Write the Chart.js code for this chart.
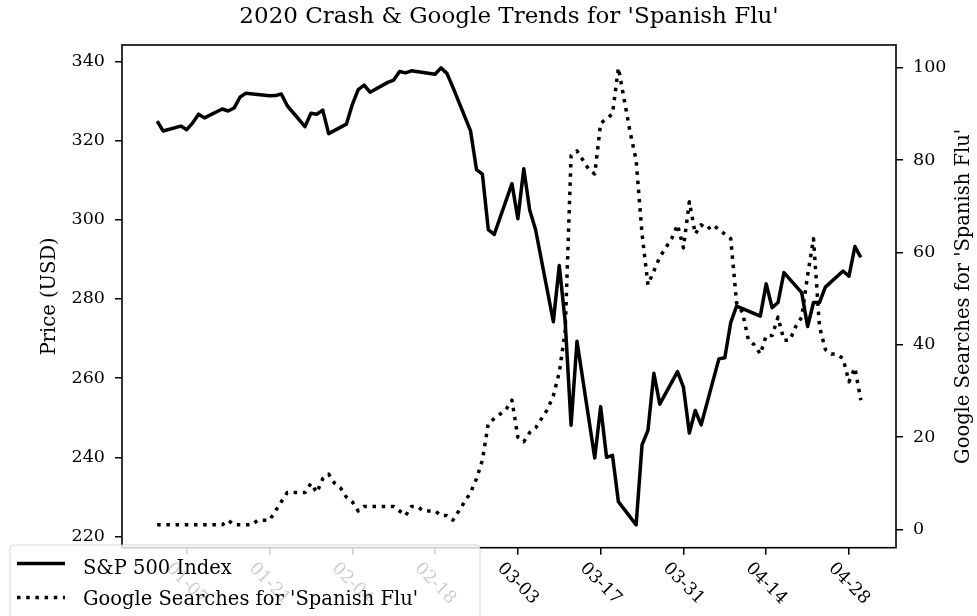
<!DOCTYPE html>
<html><head><meta charset="utf-8">
<script src="https://cdn.jsdelivr.net/npm/chart.js@4.4.1/dist/chart.umd.min.js"></script>
<style>html,body{margin:0;padding:0;background:#fff;overflow:hidden}</style>
</head><body>
<canvas id="c" width="977" height="616"></canvas>
<script>
// ---------------- data ----------------
const chartTitle = "2020 Crash & Google Trends for 'Spanish Flu'";
const yLeftTitle = "Price (USD)";
const yRightTitle = "Google Searches for 'Spanish Flu'";
const seriesLabels = ["S&P 500 Index", "Google Searches for 'Spanish Flu'"];

const spDates = ["01-02","01-03","01-06","01-07","01-08","01-09","01-10","01-13","01-14","01-15","01-16","01-17","01-21","01-22","01-23","01-24","01-27","01-28","01-29","01-30","01-31",
"02-03","02-04","02-05","02-06","02-07","02-10","02-11","02-12","02-13","02-14","02-18","02-19","02-20","02-21","02-24","02-25","02-26","02-27","02-28",
"03-02","03-03","03-04","03-05","03-06","03-09","03-10","03-11","03-12","03-13","03-16","03-17","03-18","03-19","03-20","03-23","03-24","03-25","03-26","03-27","03-30","03-31",
"04-01","04-02","04-03","04-06","04-07","04-08","04-09","04-13","04-14","04-15","04-16","04-17","04-20","04-21","04-22","04-23","04-24","04-27","04-28","04-29","04-30"];
const spPrices = [324.87,322.41,323.64,322.73,324.45,326.65,325.71,327.95,327.45,328.19,330.92,331.95,331.30,331.34,331.72,328.77,323.50,326.89,326.62,327.68,321.73,
324.12,329.06,332.86,333.98,332.20,334.68,335.26,337.42,337.06,337.60,336.73,338.34,336.95,333.48,322.42,312.65,311.50,297.51,296.26,
309.09,300.24,312.86,302.46,297.46,274.23,288.42,274.36,248.11,269.32,239.85,252.80,240.00,240.51,228.80,222.95,243.15,246.79,261.20,253.42,261.65,257.75,
246.15,251.83,248.19,264.86,265.13,274.03,278.20,275.66,283.79,277.76,279.10,286.64,281.59,273.04,279.10,279.08,282.97,287.05,285.73,293.21,290.48];

const gtDates = ["01-02","01-03","01-04","01-05","01-06","01-07","01-08","01-09","01-10","01-11","01-12","01-13","01-14","01-15","01-16","01-17","01-18","01-19","01-20","01-21","01-22","01-23","01-24","01-25","01-26","01-27","01-28","01-29","01-30","01-31",
"02-01","02-02","02-03","02-04","02-05","02-06","02-07","02-08","02-09","02-10","02-11","02-12","02-13","02-14","02-15","02-16","02-17","02-18","02-19","02-20","02-21","02-22","02-23","02-24","02-25","02-26","02-27","02-28","02-29",
"03-01","03-02","03-03","03-04","03-05","03-06","03-07","03-08","03-09","03-10","03-11","03-12","03-13","03-14","03-15","03-16","03-17","03-18","03-19","03-20","03-21","03-22","03-23","03-24","03-25","03-26","03-27","03-28","03-29","03-30","03-31",
"04-01","04-02","04-03","04-04","04-05","04-06","04-07","04-08","04-09","04-10","04-11","04-12","04-13","04-14","04-15","04-16","04-17","04-18","04-19","04-20","04-21","04-22","04-23","04-24","04-25","04-26","04-27","04-28","04-29","04-30"];
const gtValues = [1,1,1,1,1,1,1,1,1,1,1,1,2,1,1,1,1,2,2,2,4,6,8,8,8,8,10,8,11,12,
10,9,7,6,4,5,5,5,5,5,5,4,3,5,5,4,4,4,3,3,2,4,6,8,11,15,23,24,25,
26,28,20,19,21,22,24,26,29,34,43,81,82,80,78,77,88,89,90,100,93,86,80,64,53,56,59,61,63,66,61,
71,64,66,65,66,65,64,63,49,47,41,40,38,42,42,46,41,41,44,46,55,63,44,39,38,38,37,32,35,28];

const xTickLabels = ["01-07","01-21","02-04","02-18","03-03","03-17","03-31","04-14","04-28"];
const yLeftTicks = [220,240,260,280,300,320,340];
const yRightTicks = [0,20,40,60,80,100];

// ---------------- helpers ----------------
const FAMILY = "'DejaVu Serif', serif";
const TICK_FS = 17.5, LABEL_FS = 19.5, TITLE_FS = 23;
function dayOf(md){ const p = md.split('-').map(Number); return (Date.UTC(2020,p[0]-1,p[1]) - Date.UTC(2020,0,1)) / 864e5; }
function padRange(a){ const mn = Math.min(...a), mx = Math.max(...a), m = (mx-mn)*0.05; return [mn-m, mx+m]; }
const spX = spDates.map(dayOf), gtX = gtDates.map(dayOf), xTickDays = xTickLabels.map(dayOf);
const [xMin, xMax] = padRange(spX.concat(gtX));
const [yMin, yMax] = padRange(spPrices);
const [y2Min, y2Max] = padRange(gtValues);

const LW = 3.5, DOT = [3.5, 5.7];

const decor = {
  id: 'decor',
  beforeDraw(chart){ const c = chart.ctx; c.save(); c.fillStyle = '#fff'; c.fillRect(0,0,chart.width,chart.height); c.restore(); },
  afterDraw(chart){
    const c = chart.ctx, a = chart.chartArea, xs = chart.scales.x;
    c.save();
    // frame
    c.strokeStyle = '#000'; c.lineWidth = 1.6;
    c.strokeRect(a.left, a.top, a.right-a.left, a.bottom-a.top);
    // title
    c.fillStyle = '#000';
    c.font = TITLE_FS + 'px ' + FAMILY; c.textAlign = 'center'; c.textBaseline = 'alphabetic';
    c.fillText(chartTitle, (a.left+a.right)/2, 23);
    // x tick labels, rotated
    c.font = TICK_FS + 'px ' + FAMILY;
    xTickLabels.forEach((lab,i) => {
      const px = xs.getPixelForValue(xTickDays[i]);
      const w = c.measureText(lab).width;
      const half = (w + TICK_FS) * Math.SQRT1_2 / 2;
      c.save(); c.translate(px, a.bottom + 12 + half); c.rotate(Math.PI/4);
      c.textAlign = 'center'; c.textBaseline = 'middle'; c.fillText(lab, 0, 0); c.restore();
    });
    // y titles
    c.font = LABEL_FS + 'px ' + FAMILY; c.textAlign = 'center'; c.textBaseline = 'middle';
    const cy = (a.top + a.bottom)/2;
    c.save(); c.translate(50, cy); c.rotate(-Math.PI/2); c.fillText(yLeftTitle, 0, 0); c.restore();
    c.save(); c.translate(964, cy); c.rotate(-Math.PI/2); c.fillText(yRightTitle, 0, 0); c.restore();
    // legend
    const lx = 10, ly = 545, lw = 470, lh = 90, r = 4;
    c.beginPath();
    c.moveTo(lx+r, ly); c.lineTo(lx+lw-r, ly); c.quadraticCurveTo(lx+lw, ly, lx+lw, ly+r);
    c.lineTo(lx+lw, ly+lh); c.lineTo(lx, ly+lh); c.lineTo(lx, ly+r); c.quadraticCurveTo(lx, ly, lx+r, ly); c.closePath();
    c.fillStyle = 'rgba(255,255,255,0.8)'; c.fill();
    c.strokeStyle = 'rgba(204,204,204,0.8)'; c.lineWidth = 1; c.stroke();
    const rows = [563.5, 597.5], base = [574, 605];
    chart.data.datasets.forEach((ds, i) => {
      c.beginPath(); c.strokeStyle = '#000'; c.lineWidth = LW;
      c.setLineDash(ds.borderDash || []); c.lineCap = 'butt';
      c.moveTo(17, rows[i]); c.lineTo(65, rows[i]); c.stroke(); c.setLineDash([]);
      c.fillStyle = '#000'; c.font = LABEL_FS + 'px ' + FAMILY; c.textAlign = 'left'; c.textBaseline = 'alphabetic';
      c.fillText(ds.label, 83, base[i]);
    });
    c.restore();
  }
};

new Chart(document.getElementById('c'), {
  type: 'line',
  data: {
    datasets: [
      { label: seriesLabels[0], data: spX.map((x,i)=>({x, y: spPrices[i]})), yAxisID: 'y',
        borderColor: '#000', borderWidth: LW, pointRadius: 0, tension: 0, fill: false,
        borderJoinStyle: 'round', borderCapStyle: 'butt', order: 1 },
      { label: seriesLabels[1], data: gtX.map((x,i)=>({x, y: gtValues[i]})), yAxisID: 'y2',
        borderColor: '#000', borderWidth: LW, pointRadius: 0, tension: 0, fill: false,
        borderDash: DOT, borderJoinStyle: 'round', borderCapStyle: 'butt', order: 0 }
    ]
  },
  options: {
    responsive: false, animation: false, devicePixelRatio: 1,
    layout: { padding: { top: 45, left: 0, right: 0, bottom: 0 } },
    plugins: { legend: { display: false }, title: { display: false }, tooltip: { enabled: false } },
    scales: {
      x: { type: 'linear', min: xMin, max: xMax,
        afterBuildTicks: s => { s.ticks = xTickDays.map(v => ({ value: v })); },
        afterFit: s => { s.height = 616 - 547.7; },
        ticks: { display: true, color: 'rgba(0,0,0,0)', autoSkip: false, maxRotation: 0, minRotation: 0,
          font: { family: FAMILY, size: TICK_FS }, callback: (v, i) => xTickLabels[i] },
        grid: { drawOnChartArea: false, drawTicks: true, tickLength: 7, color: '#000', lineWidth: 1.5 },
        border: { display: false } },
      y: { position: 'left', min: yMin, max: yMax,
        afterBuildTicks: s => { s.ticks = yLeftTicks.map(v => ({ value: v })); },
        afterFit: s => { s.width = 122; },
        ticks: { color: '#000', padding: 10, font: { family: FAMILY, size: TICK_FS } },
        grid: { drawOnChartArea: false, drawTicks: true, tickLength: 7, color: '#000', lineWidth: 1.5 },
        border: { display: false } },
      y2: { position: 'right', min: y2Min, max: y2Max,
        afterBuildTicks: s => { s.ticks = yRightTicks.map(v => ({ value: v })); },
        afterFit: s => { s.width = 977 - 896; },
        ticks: { color: '#000', padding: 10, font: { family: FAMILY, size: TICK_FS } },
        grid: { drawOnChartArea: false, drawTicks: true, tickLength: 7, color: '#000', lineWidth: 1.5 },
        border: { display: false } }
    }
  },
  plugins: [decor]
});
</script>
</body></html>
